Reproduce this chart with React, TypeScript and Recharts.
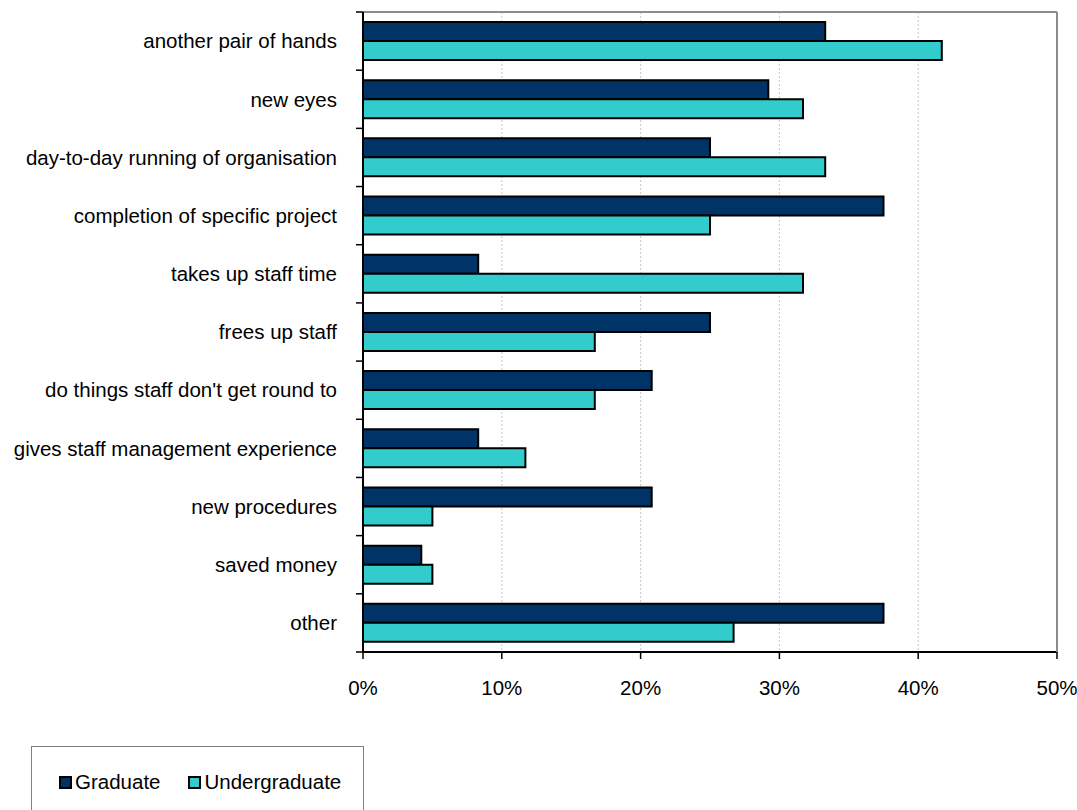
import React from "react";
import { Bar, BarChart, CartesianGrid, XAxis, YAxis } from "recharts";

const categories = [
  "another pair of hands",
  "new eyes",
  "day-to-day running of organisation",
  "completion of specific project",
  "takes up staff time",
  "frees up staff",
  "do things staff don't get round to",
  "gives staff management experience",
  "new procedures",
  "saved money",
  "other",
];
const graduate = [33.3, 29.2, 25.0, 37.5, 8.3, 25.0, 20.8, 8.3, 20.8, 4.2, 37.5];
const undergraduate = [41.7, 31.7, 33.3, 25.0, 31.7, 16.7, 16.7, 11.7, 5.0, 5.0, 26.7];
const xTicks = [0, 10, 20, 30, 40, 50];
const seriesNames = ["Graduate", "Undergraduate"];

const FONT = '"Liberation Sans", Arial, sans-serif';
const FS = 20.5;
const NAVY = "#003366";
const CYAN = "#33CCCC";

const W = 1077;
const H = 810;
const PLOT_TOP = 12;
const PLOT_BOTTOM = 652;
const PLOT_RIGHT = 1057;
const Y_AXIS_W = 363;
const X_AXIS_H = 40;
const BAND = (PLOT_BOTTOM - PLOT_TOP) / categories.length;
const Y_TICK = 7;
const Y_MARGIN = 19;

const rows = categories.map((name, i) => ({
  name,
  graduate: graduate[i],
  undergraduate: undergraduate[i],
}));

type TickProps = { x: number; y: number; index: number; payload: { value: string } };

function CategoryTick({ x, y, index, payload }: TickProps) {
  const ax = x + Y_TICK + Y_MARGIN;
  return (
    <g>
      <text x={x} y={y} dy="0.355em" textAnchor="end" fill="#000" fontSize={FS} fontFamily={FONT}>
        {payload.value}
      </text>
      <line x1={ax - Y_TICK} x2={ax} y1={y - BAND / 2} y2={y - BAND / 2} stroke="#000" strokeWidth={1.5} />
      {index === categories.length - 1 && (
        <line x1={ax - Y_TICK} x2={ax} y1={y + BAND / 2} y2={y + BAND / 2} stroke="#000" strokeWidth={1.5} />
      )}
    </g>
  );
}

export default function App() {
  return (
    <div style={{ position: "absolute", left: 0, top: 0, width: W, height: H, background: "#fff", fontFamily: FONT }}>
      <BarChart
        width={W}
        height={H}
        data={rows}
        layout="vertical"
        margin={{ top: PLOT_TOP - 1, right: W - PLOT_RIGHT - 1, left: 0, bottom: H - PLOT_BOTTOM - X_AXIS_H }}
        barCategoryGap={10}
        barGap={0}
      >
        <CartesianGrid
          xAxisId="bottom"
          yAxisId="left"
          horizontal={false}
          stroke="#c8c8c8"
          strokeDasharray="2 2"
        />
        <XAxis
          xAxisId="bottom"
          type="number"
          domain={[0, 50]}
          ticks={xTicks}
          tickFormatter={(v) => `${v}%`}
          height={X_AXIS_H}
          tickSize={7}
          tickMargin={21}
          axisLine={{ stroke: "#000", strokeWidth: 2 }}
          tickLine={{ stroke: "#000", strokeWidth: 1.5 }}
          tick={{ fill: "#000", fontSize: FS, fontFamily: FONT }}
          interval={0}
        />
        <XAxis
          xAxisId="top"
          orientation="top"
          type="number"
          domain={[0, 50]}
          height={1}
          tick={false}
          tickLine={false}
          axisLine={{ stroke: "#8c8c8c", strokeWidth: 2 }}
        />
        <YAxis
          yAxisId="left"
          type="category"
          dataKey="name"
          width={Y_AXIS_W}
          tickSize={Y_TICK}
          tickMargin={Y_MARGIN}
          tickLine={false}
          axisLine={{ stroke: "#000", strokeWidth: 2 }}
          tick={(p: TickProps) => <CategoryTick {...p} />}
          interval={0}
        />
        <YAxis
          yAxisId="right"
          orientation="right"
          type="category"
          dataKey="name"
          width={1}
          tick={false}
          tickLine={false}
          axisLine={{ stroke: "#8c8c8c", strokeWidth: 2 }}
        />
        <Bar
          xAxisId="bottom"
          yAxisId="left"
          dataKey="graduate"
          name={seriesNames[0]}
          fill={NAVY}
          stroke="#000"
          strokeWidth={2}
          isAnimationActive={false}
        />
        <Bar
          xAxisId="bottom"
          yAxisId="left"
          dataKey="undergraduate"
          name={seriesNames[1]}
          fill={CYAN}
          stroke="#000"
          strokeWidth={2}
          isAnimationActive={false}
        />
      </BarChart>

      {/* legend box, bottom-left, runs off the bottom edge */}
      <div
        style={{
          position: "absolute",
          left: 31,
          top: 746,
          width: 333,
          height: 90,
          border: "1px solid #808080",
          boxSizing: "border-box",
          background: "#fff",
        }}
      >
        <div style={{ position: "absolute", left: 27, top: 24, height: 22, display: "flex", alignItems: "center", fontSize: FS, color: "#000" }}>
          {seriesNames.map((n, i) => (
            <div key={n} style={{ display: "flex", alignItems: "center", marginRight: i === 0 ? 28 : 0 }}>
              <span
                style={{
                  width: 13,
                  height: 13,
                  boxSizing: "border-box",
                  border: "2px solid #000",
                  background: i === 0 ? NAVY : CYAN,
                  marginRight: 3,
                  display: "inline-block",
                }}
              />
              <span>{n}</span>
            </div>
          ))}
        </div>
      </div>
    </div>
  );
}
